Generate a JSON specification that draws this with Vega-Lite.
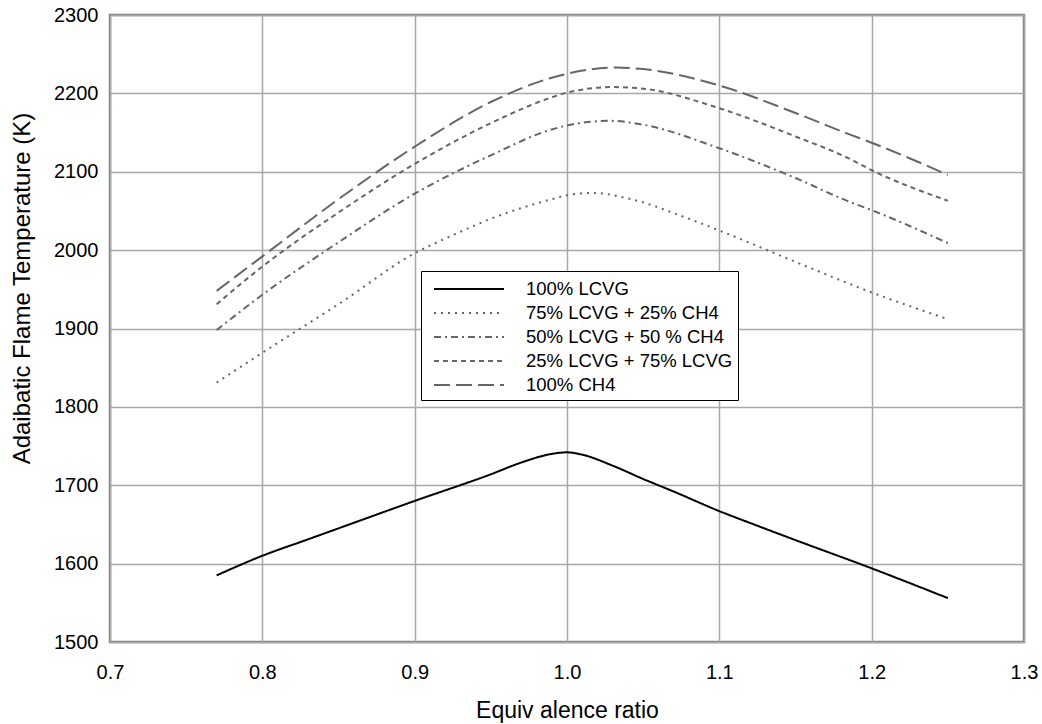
{
  "$schema": "https://vega.github.io/schema/vega-lite/v6.json",
  "width": 914,
  "height": 627,
  "autosize": {"type": "none"},
  "padding": {"left": 110, "top": 15, "right": 18, "bottom": 82},
  "background": "white",
  "config": {
    "font": "Liberation Sans",
    "view": {"stroke": "#808080", "strokeWidth": 2.5},
    "axis": {"labelFont": "Liberation Sans", "titleFont": "Liberation Sans", "labelColor": "#000", "titleColor": "#000", "titleFontWeight": "normal", "domain": false, "gridColor": "#a8a8a8", "gridWidth": 1.5, "gridOpacity": 1}
  },
  "data": {
    "values": [
      {"phi": 0.77, "T": 1585, "s": "100% LCVG"},
      {"phi": 0.80, "T": 1610, "s": "100% LCVG"},
      {"phi": 0.83, "T": 1631, "s": "100% LCVG"},
      {"phi": 0.85, "T": 1645, "s": "100% LCVG"},
      {"phi": 0.90, "T": 1680, "s": "100% LCVG"},
      {"phi": 0.95, "T": 1714, "s": "100% LCVG"},
      {"phi": 0.97, "T": 1729, "s": "100% LCVG"},
      {"phi": 0.99, "T": 1740, "s": "100% LCVG"},
      {"phi": 1.00, "T": 1742, "s": "100% LCVG"},
      {"phi": 1.01, "T": 1739, "s": "100% LCVG"},
      {"phi": 1.03, "T": 1725, "s": "100% LCVG"},
      {"phi": 1.05, "T": 1708, "s": "100% LCVG"},
      {"phi": 1.07, "T": 1692, "s": "100% LCVG"},
      {"phi": 1.10, "T": 1667, "s": "100% LCVG"},
      {"phi": 1.12, "T": 1652, "s": "100% LCVG"},
      {"phi": 1.15, "T": 1630, "s": "100% LCVG"},
      {"phi": 1.20, "T": 1594, "s": "100% LCVG"},
      {"phi": 1.25, "T": 1556, "s": "100% LCVG"},

      {"phi": 0.77, "T": 1831, "s": "75% LCVG + 25% CH4"},
      {"phi": 0.80, "T": 1869, "s": "75% LCVG + 25% CH4"},
      {"phi": 0.825, "T": 1900, "s": "75% LCVG + 25% CH4"},
      {"phi": 0.85, "T": 1931, "s": "75% LCVG + 25% CH4"},
      {"phi": 0.90, "T": 1996, "s": "75% LCVG + 25% CH4"},
      {"phi": 0.925, "T": 2019, "s": "75% LCVG + 25% CH4"},
      {"phi": 0.95, "T": 2040, "s": "75% LCVG + 25% CH4"},
      {"phi": 0.99, "T": 2065, "s": "75% LCVG + 25% CH4"},
      {"phi": 1.00, "T": 2070, "s": "75% LCVG + 25% CH4"},
      {"phi": 1.017, "T": 2073, "s": "75% LCVG + 25% CH4"},
      {"phi": 1.04, "T": 2066, "s": "75% LCVG + 25% CH4"},
      {"phi": 1.08, "T": 2040, "s": "75% LCVG + 25% CH4"},
      {"phi": 1.10, "T": 2025, "s": "75% LCVG + 25% CH4"},
      {"phi": 1.15, "T": 1985, "s": "75% LCVG + 25% CH4"},
      {"phi": 1.20, "T": 1946, "s": "75% LCVG + 25% CH4"},
      {"phi": 1.25, "T": 1912, "s": "75% LCVG + 25% CH4"},

      {"phi": 0.77, "T": 1898, "s": "50% LCVG + 50 % CH4"},
      {"phi": 0.80, "T": 1943, "s": "50% LCVG + 50 % CH4"},
      {"phi": 0.85, "T": 2010, "s": "50% LCVG + 50 % CH4"},
      {"phi": 0.90, "T": 2072, "s": "50% LCVG + 50 % CH4"},
      {"phi": 0.95, "T": 2121, "s": "50% LCVG + 50 % CH4"},
      {"phi": 0.99, "T": 2154, "s": "50% LCVG + 50 % CH4"},
      {"phi": 1.00, "T": 2159, "s": "50% LCVG + 50 % CH4"},
      {"phi": 1.028, "T": 2165, "s": "50% LCVG + 50 % CH4"},
      {"phi": 1.05, "T": 2160, "s": "50% LCVG + 50 % CH4"},
      {"phi": 1.10, "T": 2130, "s": "50% LCVG + 50 % CH4"},
      {"phi": 1.15, "T": 2092, "s": "50% LCVG + 50 % CH4"},
      {"phi": 1.185, "T": 2062, "s": "50% LCVG + 50 % CH4"},
      {"phi": 1.20, "T": 2051, "s": "50% LCVG + 50 % CH4"},
      {"phi": 1.25, "T": 2009, "s": "50% LCVG + 50 % CH4"},

      {"phi": 0.77, "T": 1931, "s": "25% LCVG + 75% LCVG"},
      {"phi": 0.80, "T": 1979, "s": "25% LCVG + 75% LCVG"},
      {"phi": 0.85, "T": 2048, "s": "25% LCVG + 75% LCVG"},
      {"phi": 0.90, "T": 2110, "s": "25% LCVG + 75% LCVG"},
      {"phi": 0.95, "T": 2162, "s": "25% LCVG + 75% LCVG"},
      {"phi": 0.99, "T": 2195, "s": "25% LCVG + 75% LCVG"},
      {"phi": 1.00, "T": 2201, "s": "25% LCVG + 75% LCVG"},
      {"phi": 1.03, "T": 2208, "s": "25% LCVG + 75% LCVG"},
      {"phi": 1.05, "T": 2206, "s": "25% LCVG + 75% LCVG"},
      {"phi": 1.10, "T": 2181, "s": "25% LCVG + 75% LCVG"},
      {"phi": 1.15, "T": 2145, "s": "25% LCVG + 75% LCVG"},
      {"phi": 1.185, "T": 2117, "s": "25% LCVG + 75% LCVG"},
      {"phi": 1.20, "T": 2102, "s": "25% LCVG + 75% LCVG"},
      {"phi": 1.25, "T": 2063, "s": "25% LCVG + 75% LCVG"},

      {"phi": 0.77, "T": 1948, "s": "100% CH4"},
      {"phi": 0.80, "T": 1992, "s": "100% CH4"},
      {"phi": 0.85, "T": 2065, "s": "100% CH4"},
      {"phi": 0.90, "T": 2132, "s": "100% CH4"},
      {"phi": 0.95, "T": 2189, "s": "100% CH4"},
      {"phi": 0.99, "T": 2220, "s": "100% CH4"},
      {"phi": 1.00, "T": 2225, "s": "100% CH4"},
      {"phi": 1.032, "T": 2233, "s": "100% CH4"},
      {"phi": 1.05, "T": 2231, "s": "100% CH4"},
      {"phi": 1.10, "T": 2210, "s": "100% CH4"},
      {"phi": 1.15, "T": 2175, "s": "100% CH4"},
      {"phi": 1.185, "T": 2148, "s": "100% CH4"},
      {"phi": 1.20, "T": 2137, "s": "100% CH4"},
      {"phi": 1.25, "T": 2096, "s": "100% CH4"}
    ]
  },
  "mark": {"type": "line", "strokeWidth": 2, "clip": true, "interpolate": "monotone"},
  "encoding": {
    "x": {
      "field": "phi", "type": "quantitative",
      "scale": {"domain": [0.7, 1.3], "nice": false, "zero": false},
      "axis": {"title": "Equiv alence ratio", "values": [0.7, 0.8, 0.9, 1.0, 1.1, 1.2, 1.3], "format": ".1f", "labelFontSize": 20, "titleFontSize": 23, "tickSize": 0, "labelPadding": 20, "titlePadding": 17, "labelFlush": false}
    },
    "y": {
      "field": "T", "type": "quantitative",
      "scale": {"domain": [1500, 2300], "nice": false, "zero": false},
      "axis": {"title": "Adaibatic Flame Temperature (K)", "values": [1500, 1600, 1700, 1800, 1900, 2000, 2100, 2200, 2300], "format": "d", "labelFontSize": 20, "titleFontSize": 24, "titleY": 273, "tickSize": 0, "labelPadding": 12, "titlePadding": 19, "labelFlush": false}
    },
    "color": {
      "field": "s", "type": "nominal",
      "scale": {"domain": ["100% LCVG", "75% LCVG + 25% CH4", "50% LCVG + 50 % CH4", "25% LCVG + 75% LCVG", "100% CH4"], "range": ["#000000", "#666666", "#666666", "#666666", "#666666"]},
      "legend": {
        "title": null, "orient": "none", "legendX": 311, "legendY": 256,
        "symbolType": "M-2.9167,0H2.9167", "symbolSize": 576, "symbolStrokeWidth": 2, "symbolOffset": 30,
        "labelFontSize": 18.5, "labelFont": "Liberation Sans", "labelColor": "#000", "labelOffset": 44, "labelLimit": 400,
        "rowPadding": 1, "padding": 5, "strokeColor": "#000000", "fillColor": "#ffffff"
      }
    },
    "strokeDash": {
      "field": "s", "type": "nominal",
      "scale": {"domain": ["100% LCVG", "75% LCVG + 25% CH4", "50% LCVG + 50 % CH4", "25% LCVG + 75% LCVG", "100% CH4"], "range": [[1, 0], [2, 5], [7, 4, 2, 4], [5, 4], [16, 6]]},
      "legend": {
        "title": null, "orient": "none", "legendX": 311, "legendY": 256,
        "symbolType": "M-2.9167,0H2.9167", "symbolSize": 576, "symbolStrokeWidth": 2, "symbolOffset": 30,
        "labelFontSize": 18.5, "labelFont": "Liberation Sans", "labelColor": "#000", "labelOffset": 44, "labelLimit": 400,
        "rowPadding": 1, "padding": 5, "strokeColor": "#000000", "fillColor": "#ffffff"
      }
    }
  }
}
